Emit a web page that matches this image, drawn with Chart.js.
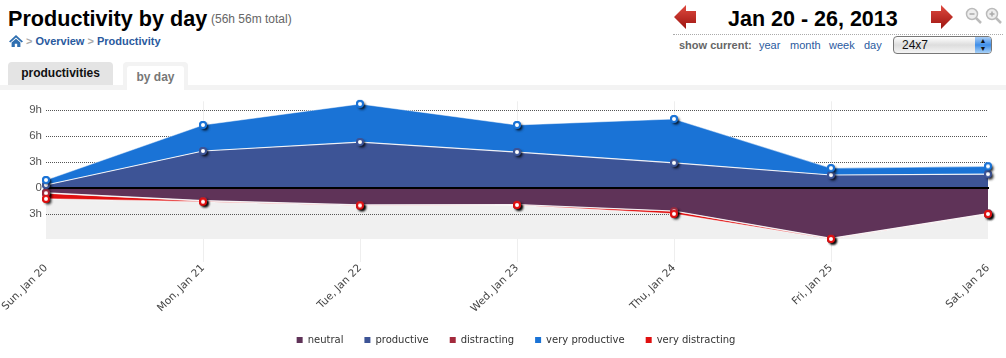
<!DOCTYPE html>
<html><head><meta charset="utf-8">
<script src="https://cdn.jsdelivr.net/npm/chart.js@4/dist/chart.umd.min.js"></script>
<style>
html,body{margin:0;padding:0;background:#fff;overflow:hidden}
body{width:1006px;height:358px;position:relative;font-family:"Liberation Sans",Arial,sans-serif}
.a{position:absolute;white-space:nowrap}
a,.l{color:#2a5a9e}
#wrap{position:absolute;left:0;top:90px;width:1006px;height:268px}
</style></head><body>
<div class="a" style="left:8px;top:5px;font-size:21.6px;font-weight:bold;color:#000;line-height:28px">Productivity by day</div>
<div class="a" style="left:211px;top:11px;font-size:12px;color:#666;line-height:16px">(56h 56m total)</div>
<svg class="a" style="left:9px;top:35px" width="14" height="12" viewBox="0 0 14 12"><path d="M7 0L14 6.5 12.6 7.5 7 2.6 1.4 7.5 0 6.5Z" fill="#2f6fb0"/><path d="M2.6 7.6L7 3.8 11.4 7.6V12H8.2V8.8H5.8V12H2.6Z" fill="#2f6fb0"/></svg>
<div class="a" style="left:26px;top:34px;font-size:11px;font-weight:bold;line-height:14px;color:#aaa">&gt; <span class="l">Overview</span> &gt; <span class="l">Productivity</span></div>
<div class="a" style="left:8px;top:62px;width:105px;height:24px;background:#e4e4e4;border-radius:4px 4px 0 0;font-size:12px;font-weight:bold;text-align:center;line-height:23px;color:#111">productivities</div>
<div class="a" style="left:0;top:85px;width:1006px;height:5px;background:#f3f3f3"></div>
<div class="a" style="left:123px;top:62px;width:65px;height:27px;background:#f3f3f3;border-radius:4px 4px 0 0"></div>
<div class="a" style="left:127px;top:66px;width:57px;height:24px;background:#fff;border-radius:3px 3px 0 0;font-size:12px;font-weight:bold;text-align:center;line-height:22px;color:#777">by day</div>

<svg class="a" style="left:673px;top:4px" width="24" height="28" viewBox="0 0 24 28"><defs><linearGradient id="r" x1="0" y1="0" x2="0" y2="1"><stop offset="0" stop-color="#e04a40"/><stop offset="1" stop-color="#9c1410"/></linearGradient></defs><path d="M1 13L13 1V7H23V19H13V25Z" fill="url(#r)"/></svg>
<svg class="a" style="left:930px;top:4px" width="24" height="28" viewBox="0 0 24 28"><path d="M23 13L11 1V7H1V19H11V25Z" fill="url(#r)"/></svg>
<div class="a" style="left:728px;top:6px;font-size:21.5px;font-weight:bold;color:#000;line-height:26px">Jan 20 - 26, 2013</div>
<svg class="a" style="left:965px;top:7px" width="18" height="18" viewBox="0 0 18 18"><circle cx="7" cy="7" r="5.5" fill="#eee" stroke="#bbb" stroke-width="1.5"/><path d="M4.500 7H9.500" stroke="#aaa" stroke-width="1.500"/><path d="M11 11L16 16" stroke="#bbb" stroke-width="2.500"/></svg>
<svg class="a" style="left:985px;top:7px" width="18" height="18" viewBox="0 0 18 18"><circle cx="7" cy="7" r="5.5" fill="#eee" stroke="#bbb" stroke-width="1.5"/><path d="M4.500 7H9.500M7 4.500V9.500" stroke="#aaa" stroke-width="1.500"/><path d="M11 11L16 16" stroke="#bbb" stroke-width="2.500"/></svg>
<div class="a" style="left:673px;top:34px;width:330px;border-top:1px dotted #aaa"></div>
<div class="a" style="left:679px;top:38px;font-size:11px;font-weight:bold;color:#666;line-height:14px">show current:</div>
<div class="a l" style="left:759px;top:38px;font-size:11px;line-height:14px">year</div>
<div class="a l" style="left:790px;top:38px;font-size:11px;line-height:14px">month</div>
<div class="a l" style="left:829px;top:38px;font-size:11px;line-height:14px">week</div>
<div class="a l" style="left:864px;top:38px;font-size:11px;line-height:14px">day</div>
<div class="a" style="left:893px;top:36px;width:97px;height:16px;border:1px solid #777;border-radius:4px;background:linear-gradient(#fff,#ddd 50%,#f4f4f4);font-size:12px;line-height:16px;color:#111;overflow:hidden"><span style="margin-left:8px">24x7</span><span style="position:absolute;right:0;top:0;width:16px;height:16px;background:linear-gradient(#a9cdf5,#3f8ee8 50%,#a9d2f7);color:#111;font-size:7px;line-height:8px;text-align:center">▲<br>▼</span></div>

<div id="wrap"><canvas id="c" width="1006" height="268"></canvas></div>
<script>
const categories=["Sun, Jan 20","Mon, Jan 21","Tue, Jan 22","Wed, Jan 23","Thu, Jan 24","Fri, Jan 25","Sat, Jan 26"];
const neutral=[-0.55,-1.45,-1.95,-1.9,-2.65,-5.8,-2.95];
const productive=[0.35,4.27,5.3,4.15,2.9,1.5,1.6];
const distracting=[-0.05,-0.05,-0.03,-0.03,-0.03,-0.03,-0.02];
const veryProductive=[0.57,3.0,4.4,3.12,5.06,0.8,0.9];
const veryDistracting=[-0.65,-0.08,-0.03,-0.03,-0.3,-0.05,-0.03];
const yTicks=[-3,0,3,6,9];

function marker(color){
  const s=22,c=document.createElement('canvas');c.width=s;c.height=s;
  const x=c.getContext('2d');
  x.shadowColor='rgba(0,0,0,.7)';x.shadowBlur=3;x.shadowOffsetX=2;x.shadowOffsetY=2;
  x.beginPath();x.arc(s/2,s/2,3,0,Math.PI*2);x.fillStyle=color;x.fill();
  x.shadowColor='transparent';
  x.beginPath();x.arc(s/2,s/2,3,0,Math.PI*2);x.lineWidth=2;x.strokeStyle=color;x.fillStyle='#fff';x.fill();x.stroke();
  return c;
}
function ds(label,data,color,fill,line){
  return {label,data,backgroundColor:color,borderColor:line,borderWidth:1.2,fill,tension:0,clip:false,
    pointStyle:marker(color),pointRadius:5,pointHoverRadius:5};
}
const bands={id:'bands',
  afterLayout(ch){
    const g=ch.legend;g.left+=22;g.right+=22;g.top-=3;g.bottom-=3;
  },
  beforeDatasetsDraw(ch){
    const a=ch.chartArea,y=ch.scales.y,x=ch.scales.x,c=ch.ctx;
    c.save();c.fillStyle='#f0f0f0';
    const l=x.getPixelForValue(0),r=x.getPixelForValue(categories.length-1),t=y.getPixelForValue(0);
    c.fillRect(l,t,r-l,a.bottom-t);c.restore();
    c.save();c.strokeStyle='#555';c.setLineDash([1,1]);c.lineWidth=1;
    yTicks.filter(v=>v!==0).forEach(v=>{const p=Math.round(y.getPixelForValue(v))+.5;c.beginPath();c.moveTo(l,p);c.lineTo(r,p);c.stroke();});
    c.restore();
  },
  afterDatasetsDraw(ch){
    const y=ch.scales.y,x=ch.scales.x,c=ch.ctx,p=y.getPixelForValue(0);
    c.save();c.strokeStyle='#000';c.lineWidth=2;c.beginPath();
    c.moveTo(x.getPixelForValue(0)-2,p);c.lineTo(x.getPixelForValue(categories.length-1)+1,p);c.stroke();c.restore();
    ch.data.datasets.forEach((d,i)=>ch.getDatasetMeta(i).data.forEach(pt=>pt.draw(c)));
  }};
new Chart(document.getElementById('c'),{
  type:'line',
  data:{labels:categories,datasets:[
    ds('neutral',neutral,'#5f3358','origin','rgba(255,255,255,.9)'),
    ds('productive',productive,'#3d5496','origin','rgba(255,255,255,.9)'),
    ds('distracting',distracting,'#a32a3c','-2','rgba(255,255,255,.6)'),
    ds('very productive',veryProductive,'#1a73d6','-2','rgba(255,255,255,.5)'),
    ds('very distracting',veryDistracting,'#e01010','-2','rgba(255,255,255,.5)')
  ]},
  plugins:[bands],
  options:{
    responsive:false,animation:false,
    layout:{autoPadding:false,padding:{left:0,right:18,top:11.3,bottom:0}},
    interaction:{mode:null},
    plugins:{tooltip:{enabled:false},
      legend:{position:'bottom',align:'center',
        labels:{boxWidth:6,boxHeight:6,padding:21,color:'#333',font:{family:'"DejaVu Sans"',size:10},
          generateLabels(ch){return ch.data.datasets.map((d,i)=>({text:d.label,fillStyle:d.backgroundColor,strokeStyle:d.backgroundColor,lineWidth:0,datasetIndex:i,hidden:false,fontColor:'#333'}));}}}},
    scales:{
      x:{stacked:true,offset:false,border:{display:false},
        grid:{color:c=>(c.index===0||c.index===categories.length-1)?'rgba(0,0,0,0)':'#eeeeee',drawTicks:true,tickLength:23,lineWidth:1},
        ticks:{autoSkip:false,maxRotation:45,minRotation:45,padding:0,color:'#444',font:{family:'"DejaVu Sans"',size:10.5}},
        afterFit(s){s.height=78;}},
      y:{stacked:true,min:-5.88,max:10,border:{display:false},
        afterBuildTicks(s){s.ticks=yTicks.map(v=>({value:v}));},
        grid:{display:false,drawTicks:false},
        ticks:{padding:4,color:'#555',font:{family:'"Liberation Sans"',size:11.5},autoSkip:false,
          callback:v=>v===0?'0':Math.abs(v)+'h'},
        afterFit(s){s.width=46;}}
    }
  }
});
</script>
</body></html>
